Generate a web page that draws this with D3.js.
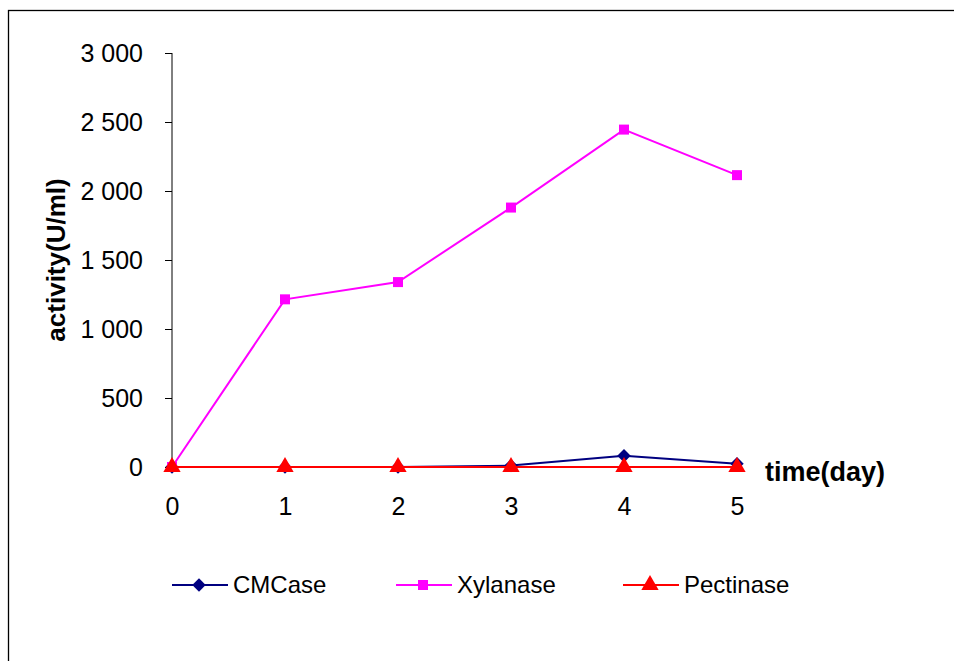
<!DOCTYPE html>
<html><head><meta charset="utf-8">
<script src="https://cdn.jsdelivr.net/npm/d3@7/dist/d3.min.js"></script>
<style>body{margin:0;background:#fff}svg{display:block;font-family:"Liberation Sans",Arial,sans-serif}</style>
</head><body>
<svg id="c" width="954" height="661"></svg>
<script>
const days = [0, 1, 2, 3, 4, 5];
const cmcase = [0, 0, 0, 10, 82, 24];
const xylanase = [0, 1215, 1340, 1880, 2445, 2115];
const pectinase = [0, 0, 0, 0, 0, 0];
const yTicks = [0, 500, 1000, 1500, 2000, 2500, 3000];
const seriesNames = ["CMCase", "Xylanase", "Pectinase"];
const seriesColors = ["#000080", "#FF00FF", "#FF0000"];
const seriesShapes = [d3.symbolSquare, d3.symbolSquare, d3.symbolTriangle];
const seriesRot = [45, 0, 0];

const svg = d3.select("#c");
svg.append("rect").attr("x", 8.5).attr("y", 10.5).attr("width", 960).attr("height", 700)
  .attr("fill", "none").attr("stroke", "#000").attr("stroke-width", 1.3);

const x = d3.scaleLinear().domain([0, 5]).range([172, 737]);
const y = d3.scaleLinear().domain([0, 3000]).range([467, 53]);
const fmt = d => d3.format(",")(d).replace(/,/g, " ");

const ya = svg.append("g").attr("transform", "translate(172,0)")
  .call(d3.axisLeft(y).tickValues(yTicks).tickFormat(fmt).tickSize(7).tickPadding(22));
ya.attr("font-size", 25).attr("font-family", "Liberation Sans, Arial");
ya.select(".domain").attr("stroke", "#000").attr("d", "M0," + y(3000) + "V" + y(0));
ya.selectAll("text").attr("fill", "#000");
ya.selectAll("line").attr("stroke", "#000");

const xa = svg.append("g").attr("transform", "translate(0," + y(0) + ")")
  .call(d3.axisBottom(x).tickValues(days).tickFormat(d3.format("d")).tickSize(0).tickPadding(30));
xa.attr("font-size", 25).attr("font-family", "Liberation Sans, Arial");
xa.select(".domain").attr("stroke", "#000");
xa.selectAll("text").attr("fill", "#000");

svg.append("text").attr("x", 765).attr("y", 481).attr("font-size", 27).attr("font-weight", "bold").text("time(day)");
svg.append("text").attr("transform", "translate(65,260) rotate(-90)").attr("text-anchor", "middle")
  .attr("font-size", 26).attr("font-weight", "bold").text("activity(U/ml)");

const data = [cmcase, xylanase, pectinase];
const line = d3.line().x((d, i) => x(days[i])).y(d => y(d));
const sizes = [90, 100, 130];
data.forEach((vals, k) => {
  const g = svg.append("g");
  g.append("path").datum(vals).attr("d", line).attr("fill", "none")
    .attr("stroke", seriesColors[k]).attr("stroke-width", 2);
  g.selectAll("path.m").data(vals).enter().append("path").attr("class", "m")
    .attr("transform", (d, i) => "translate(" + x(days[i]) + "," + y(d) + ") rotate(" + seriesRot[k] + ")")
    .attr("d", d3.symbol().type(seriesShapes[k]).size(sizes[k])).attr("fill", seriesColors[k]);
});

const legX = [172, 396, 623];
seriesNames.forEach((n, k) => {
  const g = svg.append("g").attr("transform", "translate(" + legX[k] + ",585)");
  g.append("line").attr("x1", 0).attr("x2", 56).attr("stroke", seriesColors[k]).attr("stroke-width", 2);
  g.append("path").attr("transform", "translate(27,0) rotate(" + seriesRot[k] + ")")
    .attr("d", d3.symbol().type(seriesShapes[k]).size(sizes[k])).attr("fill", seriesColors[k]);
  g.append("text").attr("x", 61).attr("y", 8).attr("font-size", 24).text(n);
});
</script>
</body></html>
